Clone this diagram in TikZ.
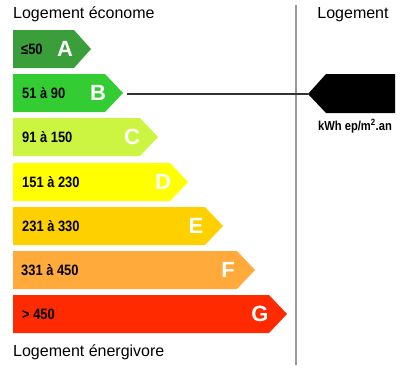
\documentclass[tikz,border=0pt]{standalone}
\usepackage{fontspec}
\setmainfont{Liberation Sans}
\usepackage{tikz}
\usetikzlibrary{positioning}
\definecolor{dpeA}{HTML}{3A9E3A}
\definecolor{dpeB}{HTML}{33CC33}
\definecolor{dpeC}{HTML}{CCF542}
\definecolor{dpeD}{HTML}{FFFF00}
\definecolor{dpeE}{HTML}{FFD000}
\definecolor{dpeF}{HTML}{FFAA3A}
\definecolor{dpeG}{HTML}{FF2A00}
\newcommand{\serre}[1]{\scalebox{0.86}[1]{#1}}
\begin{document}
\begin{tikzpicture}[x=1pt,y=-1pt,
  rng/.style={anchor=west,inner sep=0pt,font=\bfseries\fontsize{15}{17}\selectfont},
  lettre/.style={text=white,inner sep=0pt,font=\bfseries\fontsize{22}{24}\selectfont},
  titre/.style={inner sep=0pt,font=\fontsize{16}{18}\selectfont}]
\useasboundingbox (0,0) rectangle (409,370);
\fill[dpeA] (13,30) -- (74,30) -- (91,49) -- (74,68) -- (13,68) -- cycle;
\node[rng] (rA) at (21,49) {\serre{≤50}}; \node[lettre] (lA) at (65,49) {A};
\fill[dpeB] (13,74) -- (105,74) -- (123,93) -- (105,112) -- (13,112) -- cycle;
\node[rng] (rB) at (22,93) {\serre{51 à 90}}; \node[lettre] (lB) at (98,93) {B};
\coordinate (tipB) at (127,94);
\fill[dpeC] (13,118) -- (140,118) -- (158,137) -- (140,156) -- (13,156) -- cycle;
\node[rng] (rC) at (22,137) {\serre{91 à 150}}; \node[lettre] (lC) at (132,137) {C};
\fill[dpeD] (13,163) -- (170,163) -- (188,182) -- (170,201) -- (13,201) -- cycle;
\node[rng] (rD) at (22,182) {\serre{151 à 230}}; \node[lettre] (lD) at (163,182) {D};
\fill[dpeE] (13,207) -- (205,207) -- (223,226) -- (205,245) -- (13,245) -- cycle;
\node[rng] (rE) at (22,226) {\serre{231 à 330}}; \node[lettre] (lE) at (196,226) {E};
\fill[dpeF] (13,251) -- (237,251) -- (255,270) -- (237,289) -- (13,289) -- cycle;
\node[rng] (rF) at (21,270) {\serre{331 à 450}}; \node[lettre] (lF) at (228,270) {F};
\fill[dpeG] (13,295) -- (269,295) -- (287,314) -- (269,333) -- (13,333) -- cycle;
\node[rng] (rG) at (22,314) {\serre{> 450}}; \node[lettre] (lG) at (260,314) {G};
\node[titre,anchor=base west] (eco) at (13,18) {Logement économe};
\node[titre,anchor=base west] (ener) at (13,356) {Logement énergivore};
\node[titre,anchor=base] (loge) at (353,18) {Logement};
\draw[black!40,line width=1.6pt] (296,5) -- (296,365);
\fill (308,94) coordinate (mk) -- (326,74) -- (395,74) -- (395,113) -- (326,113) -- cycle;
\node[inner sep=0pt,font=\bfseries\fontsize{13}{15}\selectfont] (unit) at (355,126) {\serre{kWh ep/m\textsuperscript{2}.an}};
\draw[black!80,line width=1.3pt] (tipB) -- (mk);
\end{tikzpicture}
\end{document}
